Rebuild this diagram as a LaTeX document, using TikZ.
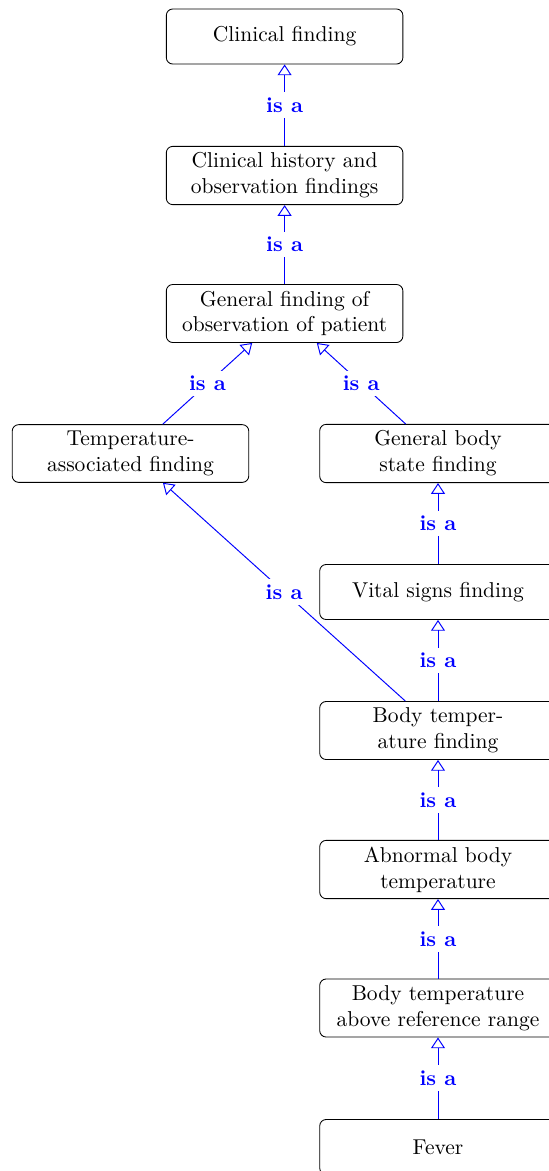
\documentclass[tikz,border=0pt]{standalone}
\usetikzlibrary{arrows.meta}
\begin{document}
\begin{tikzpicture}[x=0.465pt,y=-0.465pt,
  concept/.style={draw, rounded corners=3pt, minimum width=110pt, minimum height=25.6pt,
    text width=100pt, align=center, inner xsep=5pt, inner ysep=3pt, line width=0.4pt},
  isa/.style={color=blue, -{Triangle[open,length=5pt,width=6.5pt]}, line width=0.45pt},
  isalabel/.style={fill=white, text=blue, font=\bfseries, inner sep=2.5pt}]
\useasboundingbox (0,0) rectangle (549,1171);
\node[concept] (cf)  at (284.6,36.5)  {Clinical finding};
\node[concept] (ch)  at (284.6,175.5) {Clinical history and\\observation findings};
\node[concept] (gf)  at (284.6,313.5) {General finding of\\observation of patient};
\node[concept] (ta)  at (130.5,453.5) {Temperature-\\associated finding};
\node[concept] (gb)  at (438,453.5) {General body\\state finding};
\node[concept] (vs)  at (438,592)   {Vital signs finding};
\node[concept] (bt)  at (438,730.5) {Body temper-\\ature finding};
\node[concept] (ab)  at (438,869.5) {Abnormal body\\temperature};
\node[concept] (ar)  at (438,1008)  {Body temperature\\above reference range};
\node[concept] (fv)  at (438,1147)  {Fever};
\draw[isa] (ch) -- node[isalabel]{is a} (cf);
\draw[isa] (gf) -- node[isalabel]{is a} (ch);
\draw[isa] (ta) -- node[isalabel]{is a} (gf);
\draw[isa] (gb) -- node[isalabel]{is a} (gf);
\draw[isa] (vs) -- node[isalabel]{is a} (gb);
\draw[isa] (bt) -- node[isalabel]{is a} (vs);
\draw[isa] (bt) -- node[isalabel]{is a} (ta);
\draw[isa] (ab) -- node[isalabel]{is a} (bt);
\draw[isa] (ar) -- node[isalabel]{is a} (ab);
\draw[isa] (fv) -- node[isalabel]{is a} (ar);
\end{tikzpicture}
\end{document}
